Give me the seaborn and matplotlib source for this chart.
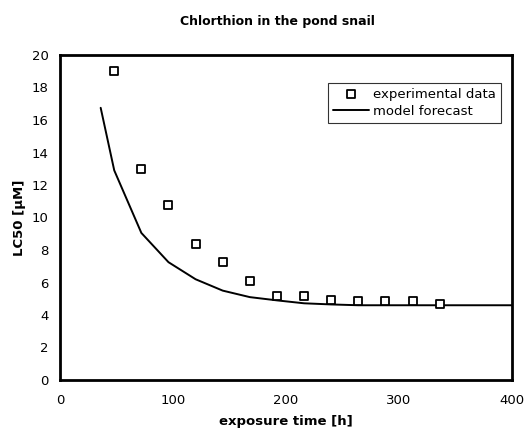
import matplotlib
matplotlib.use("Agg")
import matplotlib.pyplot as plt
import seaborn as sns
import pandas as pd

# experimental data
exp_time = [48, 72, 96, 120, 144, 168, 192, 216, 240, 264, 288, 312, 336]
exp_lc50 = [19.0, 13.0, 10.8, 8.4, 7.25, 6.1, 5.15, 5.15, 4.95, 4.85, 4.85, 4.85, 4.68]

# model forecast
mod_time = [36, 48, 72, 96, 120, 144, 168, 192, 216, 240, 264, 400]
mod_lc50 = [16.75, 12.9, 9.05, 7.25, 6.2, 5.5, 5.1, 4.9, 4.72, 4.65, 4.6, 4.6]

x_ticks = [0, 100, 200, 300, 400]
y_ticks = list(range(0, 21, 2))

sns.set_style("white")
plt.rcParams["font.family"] = ["DejaVu Sans"]
plt.rcParams["text.color"] = "black"
plt.rcParams["axes.labelcolor"] = "black"

fig = plt.figure(figsize=(5.25, 4.32), dpi=100)
ax = fig.add_axes([60 / 525, 1 - 380 / 432, 452 / 525, 325 / 432])

df_exp = pd.DataFrame({"t": exp_time, "lc": exp_lc50})
df_mod = pd.DataFrame({"t": mod_time, "lc": mod_lc50})

sns.scatterplot(data=df_exp, x="t", y="lc", ax=ax, marker="s", s=34,
                facecolor="white", edgecolor="black", linewidth=1.3,
                label="experimental data", zorder=3)
sns.lineplot(data=df_mod, x="t", y="lc", ax=ax, color="black", linewidth=1.4,
             label="model forecast", zorder=2)

ax.set_xlim(0, 400)
ax.set_ylim(0, 20)
ax.set_xticks(x_ticks)
ax.set_yticks(y_ticks)
ax.tick_params(axis="both", direction="in", length=5, width=2, labelsize=9.5,
               colors="black", pad=8)
ax.tick_params(axis="x", pad=10)
for s in ax.spines.values():
    s.set_linewidth(2)
    s.set_color("black")

ax.set_xlabel("exposure time [h]", fontsize=9.5, fontweight="bold", labelpad=6,
              color="black")
ax.set_ylabel("LC50 [µM]", fontsize=9.5, fontweight="bold", labelpad=4,
              color="black")
fig.suptitle("Chlorthion in the pond snail", fontsize=9, fontweight="bold",
             x=0.529, y=0.965, color="black")

leg = ax.legend(loc="upper right", bbox_to_anchor=(0.975, 0.915), frameon=True,
                fancybox=False, fontsize=9.5, handlelength=2.7,
                handletextpad=0.3, borderpad=0.4, labelspacing=0.3,
                borderaxespad=0)
leg.get_frame().set_edgecolor("black")
leg.get_frame().set_linewidth(0.8)
for t in leg.get_texts():
    t.set_color("black")

fig.savefig("out.png", dpi=100)
